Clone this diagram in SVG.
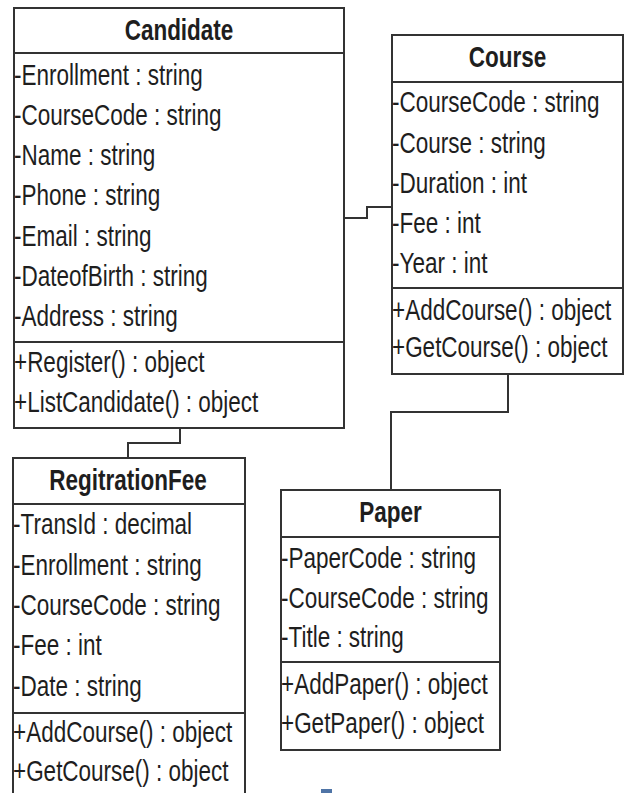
<svg xmlns="http://www.w3.org/2000/svg" width="627" height="793" viewBox="0 0 627 793">
<style>
.box{fill:#fff;stroke:#333;stroke-width:2}
.div{stroke:#333;stroke-width:2.2}
.t{font-family:"Liberation Sans",Arial,sans-serif;font-size:30px;fill:#1e1e1e}
.h{font-weight:bold;text-anchor:middle}
.conn{fill:none;stroke:#333;stroke-width:2}
</style>
<rect width="627" height="793" fill="#fff"/>
<g id="connectors">
<path class="conn" d="M344,218 H367 V207 H392"/>
<path class="conn" d="M508,374 V412 H391 V490"/>
<path class="conn" d="M180,428 V443 H128 V458"/>
</g>
<g id="candidate">
<rect class="box" x="14" y="8" width="330" height="420"/>
<line class="div" x1="14" y1="53" x2="344" y2="53"/>
<line class="div" x1="14" y1="342" x2="344" y2="342"/>
<text class="t h" transform="matrix(0.75 0 0 1 179 40)">Candidate</text>
<text class="t" transform="matrix(0.75 0 0 1 14 85)">-Enrollment : string</text>
<text class="t" transform="matrix(0.75 0 0 1 14 125)">-CourseCode : string</text>
<text class="t" transform="matrix(0.75 0 0 1 14 165)">-Name : string</text>
<text class="t" transform="matrix(0.75 0 0 1 14 205)">-Phone : string</text>
<text class="t" transform="matrix(0.75 0 0 1 14 246)">-Email : string</text>
<text class="t" transform="matrix(0.75 0 0 1 14 286)">-DateofBirth : string</text>
<text class="t" transform="matrix(0.75 0 0 1 14 326)">-Address : string</text>
<text class="t" transform="matrix(0.75 0 0 1 14 372)">+Register() : object</text>
<text class="t" transform="matrix(0.75 0 0 1 14 412)">+ListCandidate() : object</text>
</g>
<g id="course">
<rect class="box" x="392" y="35" width="231" height="339"/>
<line class="div" x1="392" y1="82" x2="623" y2="82"/>
<line class="div" x1="392" y1="288" x2="623" y2="288"/>
<text class="t h" transform="matrix(0.75 0 0 1 507.5 67)">Course</text>
<text class="t" transform="matrix(0.75 0 0 1 392 112)">-CourseCode : string</text>
<text class="t" transform="matrix(0.75 0 0 1 392 153)">-Course : string</text>
<text class="t" transform="matrix(0.75 0 0 1 392 193)">-Duration : int</text>
<text class="t" transform="matrix(0.75 0 0 1 392 233)">-Fee : int</text>
<text class="t" transform="matrix(0.75 0 0 1 392 273)">-Year : int</text>
<text class="t" transform="matrix(0.75 0 0 1 392 320)">+AddCourse() : object</text>
<text class="t" transform="matrix(0.75 0 0 1 392 357)">+GetCourse() : object</text>
</g>
<g id="regitrationfee">
<rect class="box" x="13" y="458" width="232" height="350"/>
<line class="div" x1="13" y1="504" x2="245" y2="504"/>
<line class="div" x1="13" y1="713" x2="245" y2="713"/>
<text class="t h" transform="matrix(0.75 0 0 1 128 490)">RegitrationFee</text>
<text class="t" transform="matrix(0.75 0 0 1 13 534)">-TransId : decimal</text>
<text class="t" transform="matrix(0.75 0 0 1 13 575)">-Enrollment : string</text>
<text class="t" transform="matrix(0.75 0 0 1 13 615)">-CourseCode : string</text>
<text class="t" transform="matrix(0.75 0 0 1 13 655)">-Fee : int</text>
<text class="t" transform="matrix(0.75 0 0 1 13 696)">-Date : string</text>
<text class="t" transform="matrix(0.75 0 0 1 13 742)">+AddCourse() : object</text>
<text class="t" transform="matrix(0.75 0 0 1 13 781)">+GetCourse() : object</text>
</g>
<g id="paper">
<rect class="box" x="281" y="490" width="219" height="260"/>
<line class="div" x1="281" y1="537" x2="500" y2="537"/>
<line class="div" x1="281" y1="662" x2="500" y2="662"/>
<text class="t h" transform="matrix(0.75 0 0 1 390.5 522)">Paper</text>
<text class="t" transform="matrix(0.75 0 0 1 281 568)">-PaperCode : string</text>
<text class="t" transform="matrix(0.75 0 0 1 281 608)">-CourseCode : string</text>
<text class="t" transform="matrix(0.75 0 0 1 281 647)">-Title : string</text>
<text class="t" transform="matrix(0.75 0 0 1 281 694)">+AddPaper() : object</text>
<text class="t" transform="matrix(0.75 0 0 1 281 733)">+GetPaper() : object</text>
</g>
<rect x="321" y="789" width="11" height="4" fill="#4f74a6"/>
</svg>
